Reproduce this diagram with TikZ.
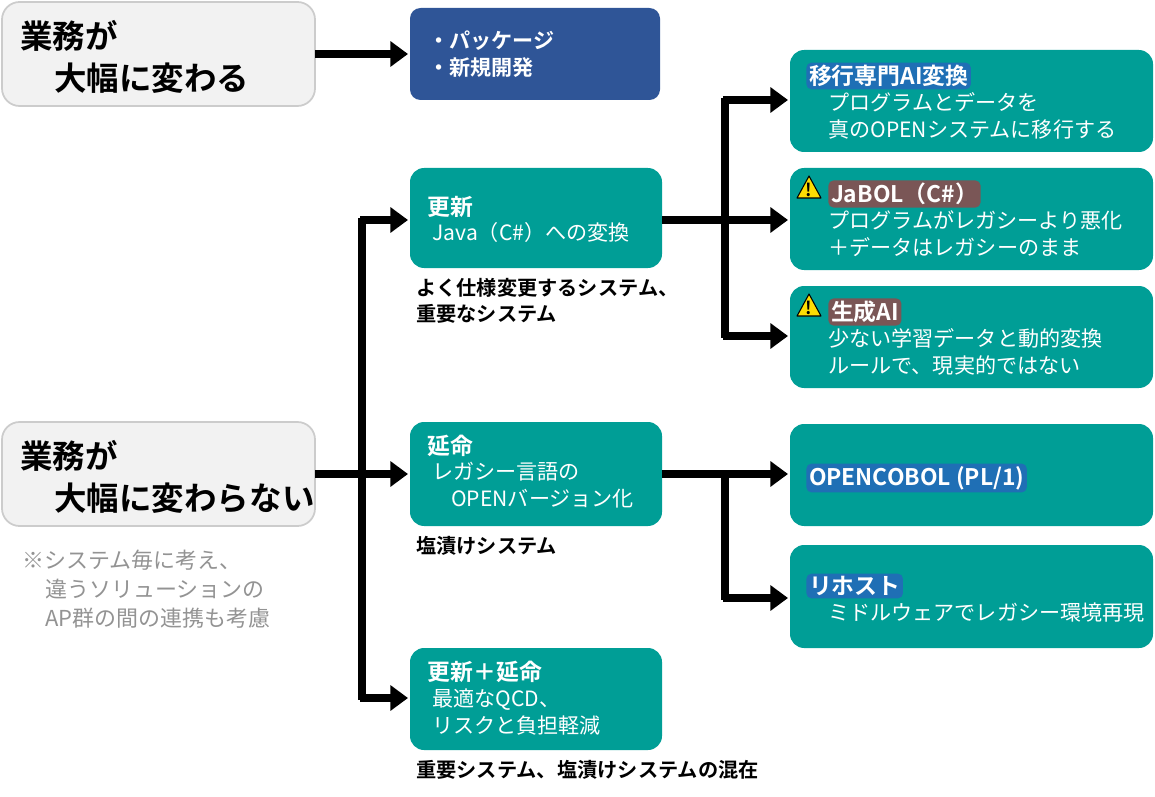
\documentclass[tikz,border=0pt]{standalone}
\usepackage{fontspec}
\setmainfont{Noto Sans CJK JP}
\newfontfamily\jpb{Noto Sans CJK JP Bold}
\usetikzlibrary{arrows.meta,calc}
\definecolor{teal1}{HTML}{009E96}
\definecolor{navy1}{HTML}{2F5597}
\definecolor{gray1}{HTML}{F2F2F2}
\definecolor{glowb}{HTML}{1F6FB5}
\definecolor{glowr}{HTML}{7A5656}
\tikzset{
 gbox/.style={draw=gray!40,fill=gray1,rounded corners=10pt,line width=1pt},
 con/.style={line width=4.5pt,-{Triangle[length=10pt,width=14pt]}},
 ln/.style={line width=4.5pt},
 hd/.style={font=\jpb\fontsize{13}{15}\selectfont,text=white,anchor=west,inner sep=1.5pt,rounded corners=3pt},
 bd/.style={font=\fontsize{12}{15.5}\selectfont,text=white,anchor=north west,align=left,inner sep=0pt},
 lab/.style={font=\jpb\fontsize{11.5}{14.5}\selectfont,anchor=north west,align=left,inner sep=0pt},
 big/.style={font=\jpb\fontsize{18.5}{24}\selectfont,anchor=north west,align=left,inner sep=0pt},
}
\newcommand{\warn}[1]{\fill[yellow!80!orange,draw=black,line width=0.6pt,line join=round] ($#1+(0,10)$) -- ++(24,0) -- ++(-12,-22) -- cycle; \node[font=\jpb\fontsize{10}{10}\selectfont,inner sep=0pt] at ($#1+(12,2)$) {!};}
\begin{document}
\begin{tikzpicture}[x=0.02cm,y=-0.02cm]
\useasboundingbox (0,0) rectangle (1155,797);
\draw[gbox] (2,2) rectangle (315,106);
\node[big] (g1) at (20,20) {業務が\\\hspace{1.05em}大幅に変わる};
\draw[gbox] (2,422) rectangle (315,526);
\node[big] (g2) at (20,440) {業務が\\\hspace{1.05em}大幅に変わらない};
\node[font=\fontsize{12.5}{16.5}\selectfont,text=gray!85,anchor=north west,align=left,inner sep=0pt] (note) at (22,550) {※システム毎に考え、\\\hspace{1.05em}違うソリューションの\\\hspace{1.05em}AP群の間の連携も考慮};
\fill[navy1,rounded corners=6pt] (410,8) rectangle (660,100);
\node[font=\jpb\fontsize{12}{15.5}\selectfont,text=white,anchor=north west,align=left,inner sep=0pt] (pk) at (428,30) {・パッケージ\\・新規開発};
\fill[teal1,rounded corners=8pt] (410,168) rectangle (662,268);
\node[hd] (h1) at (425,207) {更新};
\node[bd] at (432,222) {Java（C\#）への変換};
\node[lab] at (416,278) {よく仕様変更するシステム、\\重要なシステム};
\fill[teal1,rounded corners=8pt] (410,422) rectangle (662,526);
\node[hd] (h2) at (425,446) {延命};
\node[bd] at (432,462) {レガシー言語の\\\hspace{0.9em}OPENバージョン化};
\node[lab] at (416,536) {塩漬けシステム};
\fill[teal1,rounded corners=8pt] (410,648) rectangle (662,750);
\node[hd] (h3) at (425,672) {更新＋延命};
\node[bd] at (432,688) {最適なQCD、\\リスクと負担軽減};
\node[lab] at (416,760) {重要システム、塩漬けシステムの混在};
\fill[teal1,rounded corners=8pt] (790,50) rectangle (1153,152);
\node[hd,fill=glowb] at (806,76) {移行専門AI変換};
\node[bd] at (828,92) {プログラムとデータを\\真のOPENシステムに移行する};
\fill[teal1,rounded corners=8pt] (790,168) rectangle (1153,270);
\warn{(797,188)}
\node[hd,fill=glowr] at (828,194) {JaBOL（C\#）};
\node[bd] at (828,210) {プログラムがレガシーより悪化\\＋データはレガシーのまま};
\fill[teal1,rounded corners=8pt] (790,286) rectangle (1153,388);
\warn{(797,306)}
\node[hd,fill=glowr] at (828,312) {生成AI};
\node[bd] at (828,328) {少ない学習データと動的変換\\ルールで、現実的ではない};
\fill[teal1,rounded corners=8pt] (790,424) rectangle (1153,526);
\node[hd,fill=glowb] at (806,478) {OPENCOBOL (PL/1)};
\fill[teal1,rounded corners=8pt] (790,545) rectangle (1153,648);
\node[hd,fill=glowb] at (806,586) {リホスト};
\node[bd] at (828,602) {ミドルウェアでレガシー環境再現};
\coordinate (a0) at (315,54); \coordinate (a1) at (408,54);
\draw[con] (a0) -- (a1);
\coordinate (b0) at (315,474); \coordinate (b1) at (362,474);
\draw[ln] (b0) -- (b1);
\draw[ln] (362,218) -- (362,700);
\draw[con] (360,220) -- (408,220);
\draw[con] (362,474) -- (408,474);
\draw[con] (360,698) -- (408,698);
\draw[ln] (662,220) -- (725,220);
\draw[ln] (725,98) -- (725,338);
\draw[con] (723,100) -- (788,100);
\draw[con] (725,220) -- (788,220);
\draw[con] (723,336) -- (788,336);
\draw[ln] (662,474) -- (725,474);
\draw[ln] (725,472) -- (725,600);
\draw[con] (725,474) -- (788,474);
\draw[con] (723,598) -- (788,598);
\end{tikzpicture}
\end{document}
